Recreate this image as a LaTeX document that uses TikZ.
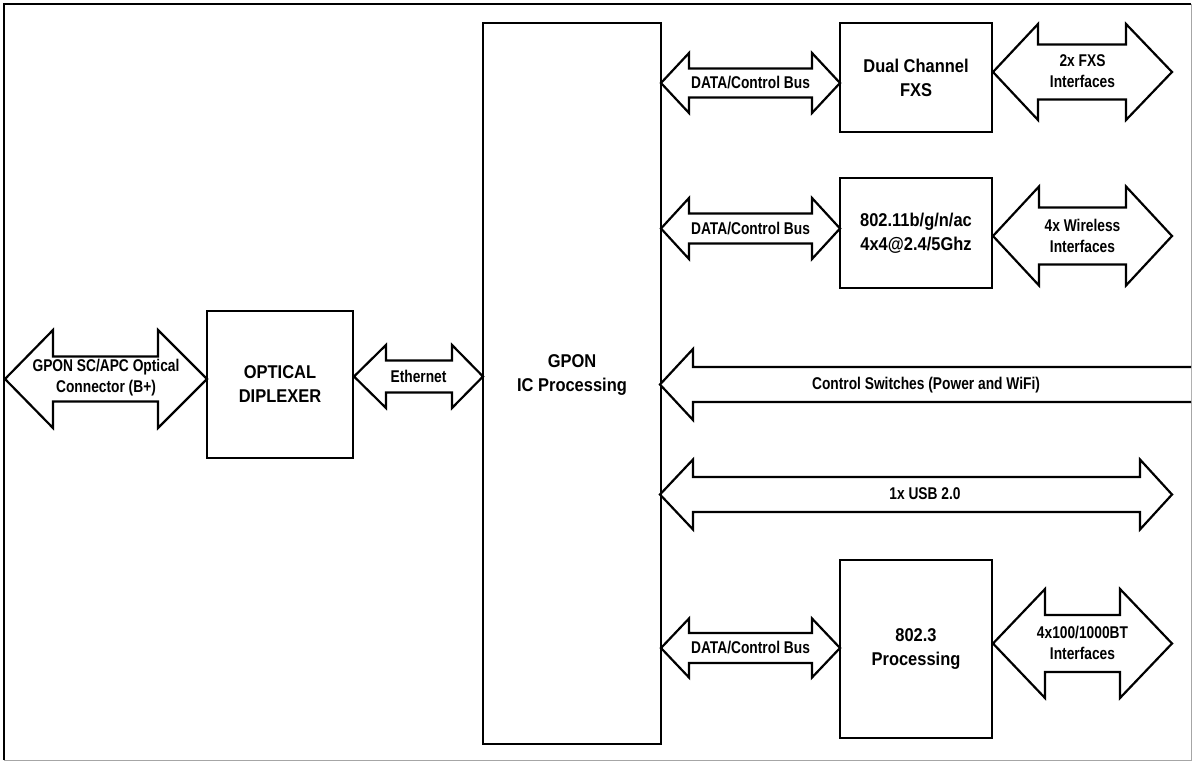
\documentclass[tikz,border=0pt]{standalone}
\usepackage{fontspec}
\newfontfamily\boxfont{Liberation Sans}[FakeStretch=0.89]
\newfontfamily\lblfont{Liberation Sans}[FakeStretch=0.81]
\tikzset{
  blk/.style={draw=black, line width=2.2pt, line join=miter, fill=white},
  blockbox/.style={draw=black, line width=2.4pt, fill=white, inner sep=0pt, outer sep=0pt,
    align=center, font=\boxfont\bfseries\fontsize{18.5}{24}\selectfont},
  boxtext/.style={inner sep=0pt, align=center, font=\boxfont\bfseries\fontsize{18.5}{24}\selectfont},
  lbl/.style={inner sep=0pt, align=center, font=\lblfont\bfseries\fontsize{17}{21}\selectfont}
}
% double block arrow: x1, x2, yc, shaft half, head half, head len left, head len right
\newcommand{\dblarrow}[7]{%
  \draw[blk] (#1,#3) -- (#1+#6,#3-#5) -- (#1+#6,#3-#4) -- (#2-#7,#3-#4) -- (#2-#7,#3-#5)
    -- (#2,#3) -- (#2-#7,#3+#5) -- (#2-#7,#3+#4) -- (#1+#6,#3+#4) -- (#1+#6,#3+#5) -- cycle;}
\begin{document}
\begin{tikzpicture}[x=1pt,y=-1pt]
\useasboundingbox (0,0) rectangle (1193,762);
% outer frame
\draw[gray!70, line width=1pt] (1191,4) -- (1191,760) -- (4,760);
\draw[black, line width=2pt] (4,760) -- (4,4) -- (1191,4);

% boxes
\node[blockbox, minimum width=146pt, minimum height=147pt] (dip) at (280,384.5) {OPTICAL\\DIPLEXER};
\node[blockbox, minimum width=178pt, minimum height=721pt] (gpon) at (572,383.5) {};
\node[boxtext] (gpontext) at (572,375) {GPON\\IC Processing};
\node[blockbox, minimum width=152pt, minimum height=109pt] (fxs) at (916,77.5) {Dual Channel\\FXS};
\node[blockbox, minimum width=152pt, minimum height=110pt] (wifi) at (916,233) {802.11b/g/n/ac\\4x4@2.4/5Ghz};
\node[blockbox, minimum width=152pt, minimum height=178pt] (eth) at (916,649) {802.3\\Processing};

% left side arrows
\dblarrow{5}{207}{379}{22.5}{49}{48}{49}
\node[lbl] (gponsc) at (106,378) {GPON SC/APC Optical\\Connector (B+)};
\dblarrow{354}{483}{376.5}{16}{31.5}{32}{31}
\node[lbl] (ethlbl) at (418.5,376.5) {Ethernet};

% data buses
\dblarrow{661}{840}{83}{14.5}{30}{28}{28}
\node[lbl] (bus1) at (750.5,83) {DATA/Control Bus};
\dblarrow{661}{840}{228.5}{15}{30.5}{28}{28}
\node[lbl] (bus2) at (750.5,228.5) {DATA/Control Bus};
\dblarrow{661}{840}{648}{15}{29.5}{28}{28}
\node[lbl] (bus3) at (750.5,648) {DATA/Control Bus};

% interfaces
\dblarrow{993}{1172}{72}{27.5}{48}{45}{46}
\node[lbl] (fxsif) at (1082.5,71) {2x FXS\\Interfaces};
\dblarrow{993}{1172}{236}{28.5}{49.5}{46}{46}
\node[lbl] (wifiif) at (1082.5,235.5) {4x Wireless\\Interfaces};
\dblarrow{993}{1172}{643.5}{28.5}{54.5}{52}{52}
\node[lbl] (ethif) at (1082.5,642.5) {4x100/1000BT\\Interfaces};

% control switches (open at the right frame)
\draw[blk] (1191,367) -- (693,367) -- (693,349) -- (660,384.5) -- (693,420) -- (693,402) -- (1191,402);
\node[lbl] (ctrl) at (926,385) {Control Switches (Power and WiFi)};

% USB
\dblarrow{660}{1172}{494.5}{17.5}{35}{33}{32}
\node[lbl] (usb) at (925,494) {1x USB 2.0};
\end{tikzpicture}
\end{document}
